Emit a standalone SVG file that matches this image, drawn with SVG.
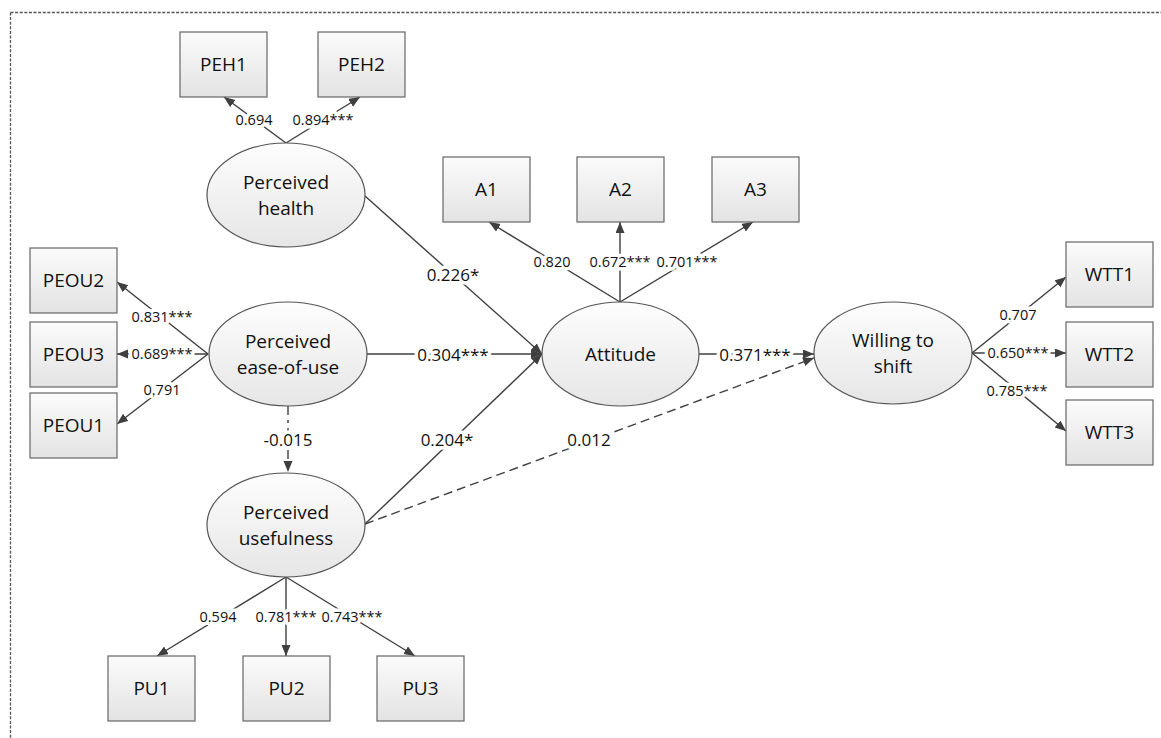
<svg xmlns="http://www.w3.org/2000/svg" width="1161" height="738" viewBox="0 0 1161 738">
<style>
.box{fill:url(#gb);stroke:#666;stroke-width:1.2}
.ell{fill:url(#ge);stroke:#555;stroke-width:1.2}
.nt{font-family:"Open Sans","Liberation Sans",sans-serif;font-size:19px;fill:#111;text-anchor:middle}
.c{stroke:#3f3f3f;stroke-width:1.4;fill:none}
.a{marker-end:url(#ah)}
.dash{stroke-dasharray:9,5}
.dd{stroke-dasharray:9,5,3,5}
.l{font-family:"Open Sans","Liberation Sans",sans-serif;font-size:14.5px;fill:#111;text-anchor:middle;paint-order:stroke;stroke:#fff;stroke-width:7px;stroke-linejoin:round}
.L{font-size:17px}
</style>
<defs>
<linearGradient id="gb" x1="0" y1="0" x2="0" y2="1"><stop offset="0" stop-color="#fbfbfb"/><stop offset="1" stop-color="#e3e3e3"/></linearGradient>
<linearGradient id="ge" x1="0" y1="0" x2="0" y2="1"><stop offset="0" stop-color="#fdfdfd"/><stop offset="1" stop-color="#e6e6e6"/></linearGradient>
<marker id="ah" markerUnits="userSpaceOnUse" markerWidth="12" markerHeight="10" refX="11" refY="4.5" orient="auto"><path d="M0,0 L11,4.5 L0,9 z" fill="#3f3f3f"/></marker>
</defs>
<rect width="1161" height="738" fill="#fff"/>
<path d="M10.5,12.5 H1161 M10.5,12.5 V738" stroke="#555" stroke-width="1.3" stroke-dasharray="3,1.6" fill="none"/>
<g id="connectors">
<line class="c a" x1="286" y1="143" x2="224" y2="97"/>
<line class="c a" x1="286" y1="143" x2="360" y2="97"/>
<line class="c a" x1="208" y1="354" x2="117" y2="282"/>
<line class="c a" x1="208" y1="354" x2="117" y2="354"/>
<line class="c a" x1="208" y1="354" x2="117" y2="424"/>
<line class="c a" x1="620" y1="302" x2="489" y2="222"/>
<line class="c a" x1="620" y1="302" x2="620" y2="222"/>
<line class="c a" x1="620" y1="302" x2="753" y2="222"/>
<line class="c a" x1="972" y1="353" x2="1066" y2="277"/>
<line class="c a" x1="972" y1="353" x2="1066" y2="353"/>
<line class="c a" x1="972" y1="353" x2="1066" y2="431"/>
<line class="c a" x1="286" y1="577" x2="157" y2="656"/>
<line class="c a" x1="286" y1="577" x2="286" y2="656"/>
<line class="c a" x1="286" y1="577" x2="415" y2="656"/>
<line class="c a" x1="365" y1="196" x2="542" y2="354"/>
<line class="c a" x1="367" y1="354" x2="542" y2="354"/>
<line class="c a" x1="365" y1="524" x2="542" y2="354"/>
<line class="c a" x1="699" y1="354" x2="814" y2="354"/>
<line class="c a dash" x1="365" y1="524" x2="814" y2="358"/>
<line class="c a dd" x1="288" y1="406" x2="288" y2="472"/>
<text class="l" x="254" y="125">0.694</text>
<text class="l" x="323" y="125">0.894***</text>
<text class="l" x="162" y="322">0.831***</text>
<text class="l" x="162" y="359">0.689***</text>
<text class="l" x="162" y="395">0.791</text>
<text class="l" x="552" y="267">0.820</text>
<text class="l" x="620" y="267">0.672***</text>
<text class="l" x="687" y="267">0.701***</text>
<text class="l" x="1018" y="320">0.707</text>
<text class="l" x="1018" y="358">0.650***</text>
<text class="l" x="1017" y="396">0.785***</text>
<text class="l" x="218" y="622">0.594</text>
<text class="l" x="286" y="622">0.781***</text>
<text class="l" x="352" y="622">0.743***</text>
<text class="l L" x="453" y="281">0.226*</text>
<text class="l L" x="453" y="361">0.304***</text>
<text class="l L" x="447" y="446">0.204*</text>
<text class="l L" x="755" y="361">0.371***</text>
<text class="l L" x="589" y="446">0.012</text>
<text class="l L" x="288" y="446">-0.015</text>
</g>
<g id="PEH1"><rect class="box" x="180" y="32" width="87" height="65"/><text class="nt" x="223.5" y="71">PEH1</text></g>
<g id="PEH2"><rect class="box" x="318" y="32" width="87" height="65"/><text class="nt" x="361.5" y="71">PEH2</text></g>
<g id="A1"><rect class="box" x="443" y="157" width="87" height="65"/><text class="nt" x="486.5" y="196">A1</text></g>
<g id="A2"><rect class="box" x="577" y="157" width="87" height="65"/><text class="nt" x="620.5" y="196">A2</text></g>
<g id="A3"><rect class="box" x="712" y="157" width="87" height="65"/><text class="nt" x="755.5" y="196">A3</text></g>
<g id="PEOU2"><rect class="box" x="30" y="248" width="87" height="65"/><text class="nt" x="73.5" y="287">PEOU2</text></g>
<g id="PEOU3"><rect class="box" x="30" y="322" width="87" height="65"/><text class="nt" x="73.5" y="361">PEOU3</text></g>
<g id="PEOU1"><rect class="box" x="30" y="393" width="87" height="65"/><text class="nt" x="73.5" y="432">PEOU1</text></g>
<g id="WTT1"><rect class="box" x="1066" y="242" width="87" height="65"/><text class="nt" x="1109.5" y="281">WTT1</text></g>
<g id="WTT2"><rect class="box" x="1066" y="322" width="87" height="65"/><text class="nt" x="1109.5" y="361">WTT2</text></g>
<g id="WTT3"><rect class="box" x="1066" y="400" width="87" height="65"/><text class="nt" x="1109.5" y="439">WTT3</text></g>
<g id="PU1"><rect class="box" x="108" y="656" width="87" height="65"/><text class="nt" x="151.5" y="695">PU1</text></g>
<g id="PU2"><rect class="box" x="243" y="656" width="87" height="65"/><text class="nt" x="286.5" y="695">PU2</text></g>
<g id="PU3"><rect class="box" x="377" y="656" width="87" height="65"/><text class="nt" x="420.5" y="695">PU3</text></g>
<g id="PerceivedHealth"><ellipse class="ell" cx="286" cy="195" rx="79" ry="52"/><text class="nt" x="286" y="189">Perceived</text><text class="nt" x="286" y="215">health</text></g>
<g id="PerceivedEaseOfUse"><ellipse class="ell" cx="288" cy="354" rx="79" ry="52"/><text class="nt" x="288" y="348">Perceived</text><text class="nt" x="288" y="374">ease-of-use</text></g>
<g id="PerceivedUsefulness"><ellipse class="ell" cx="286" cy="525" rx="79" ry="52"/><text class="nt" x="286" y="519">Perceived</text><text class="nt" x="286" y="545">usefulness</text></g>
<g id="Attitude"><ellipse class="ell" cx="620.5" cy="354" rx="78.5" ry="52"/><text class="nt" x="620.5" y="361">Attitude</text></g>
<g id="WillingToShift"><ellipse class="ell" cx="893" cy="353" rx="79" ry="51"/><text class="nt" x="893" y="347">Willing to</text><text class="nt" x="893" y="373">shift</text></g>
</svg>
